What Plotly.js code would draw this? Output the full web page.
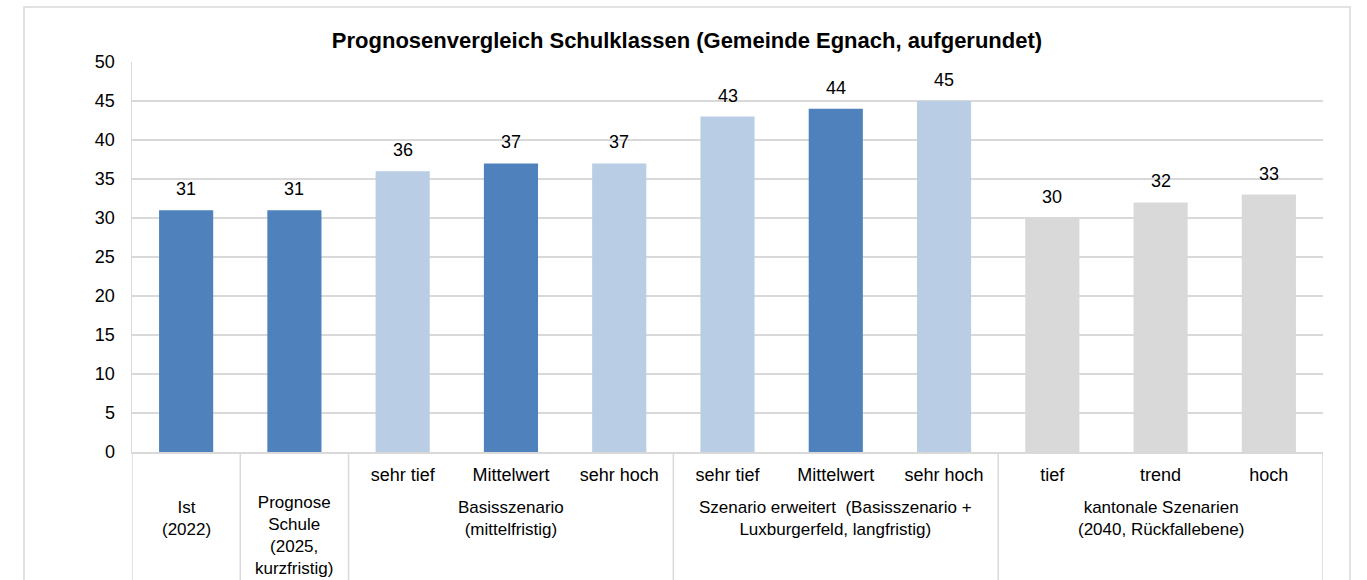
<!DOCTYPE html>
<html>
<head>
<meta charset="utf-8">
<script src="https://cdn.plot.ly/plotly-3.0.1.min.js"></script>
<style>
  html, body { margin: 0; padding: 0; background: #fff; }
  #chart { width: 1367px; height: 580px; }
</style>
</head>
<body>
<div id="chart"></div>
<script>
var subLabels = ['', '', 'sehr tief', 'Mittelwert', 'sehr hoch', 'sehr tief', 'Mittelwert', 'sehr hoch', 'tief', 'trend', 'hoch'];
var values = [31, 31, 36, 37, 37, 43, 44, 45, 30, 32, 33];
var barColors = ['#4f81bd', '#4f81bd', '#b9cde5', '#4f81bd', '#b9cde5', '#b9cde5', '#4f81bd', '#b9cde5', '#d9d9d9', '#d9d9d9', '#d9d9d9'];

var groupNames = ['Ist<br>(2022)', 'Prognose<br>Schule<br>(2025,<br>kurzfristig)', 'Basisszenario<br>(mittelfristig)',
                  'Szenario erweitert  (Basisszenario +<br>Luxburgerfeld, langfristig)', 'kantonale Szenarien<br>(2040, Rückfallebene)'];
var groupStart = [0, 1, 2, 5, 8];
var groupEnd = [0, 1, 4, 7, 10];

var FONT = 'Liberation Sans, Arial, sans-serif';
var GRID = '#d9d9d9';

function drawChart() {
  var idx = values.map(function(v, i) { return i; });

  var trace = {
    x: idx,
    y: values,
    type: 'bar',
    width: 0.5,
    marker: { color: barColors },
    hoverinfo: 'y'
  };

  // value labels above the bars
  var annotations = values.map(function(v, i) {
    return {
      x: i, y: v, xref: 'x', yref: 'y',
      text: String(v), showarrow: false,
      yanchor: 'bottom', yshift: 9,
      font: { family: FONT, size: 18, color: '#000' }
    };
  });

  // group labels under the sub labels (the 4-line one sits a bit higher so it fits)
  groupNames.forEach(function(g, i) {
    annotations.push({
      x: (groupStart[i] + groupEnd[i]) / 2, y: 0, xref: 'x', yref: 'paper',
      text: g, showarrow: false, yanchor: 'top',
      yshift: g.split('<br>').length > 2 ? -39 : -44,
      font: { family: FONT, size: 17, color: '#000' }
    });
  });

  var shapes = [];
  [-0.5, 0.5, 1.5, 4.5, 7.5, 10.5].forEach(function(b) {
    shapes.push({
      type: 'line', xref: 'x', yref: 'paper',
      x0: b, x1: b, y0: 0, y1: -0.4,
      line: { color: GRID, width: 1.5 }
    });
  });
  // outer frame
  shapes.push({
    type: 'rect', xref: 'paper', yref: 'paper',
    x0: -0.0907, x1: 1.0227, y0: -0.5, y1: 1.141,
    line: { color: GRID, width: 1.5 }
  });

  var layout = {
    width: 1367,
    height: 580,
    paper_bgcolor: '#fff',
    plot_bgcolor: '#fff',
    font: { family: FONT, color: '#000', size: 18 },
    title: {
      text: '<b>Prognosenvergleich Schulklassen (Gemeinde Egnach, aufgerundet)</b>',
      font: { family: FONT, size: 22, color: '#000' },
      x: 687 / 1367, xref: 'container', xanchor: 'center',
      y: 1 - 40 / 580, yref: 'container', yanchor: 'middle'
    },
    margin: { t: 62, r: 44, b: 128, l: 132 },
    showlegend: false,
    bargap: 0.5,
    xaxis: {
      range: [-0.5, 10.5],
      tickvals: idx,
      ticktext: subLabels,
      ticks: '',
      ticklabelstandoff: 6,
      showgrid: false,
      zeroline: false,
      showline: true,
      linecolor: GRID,
      linewidth: 1.5,
      tickfont: { family: FONT, size: 18, color: '#000' },
      fixedrange: true
    },
    yaxis: {
      range: [0, 50],
      dtick: 5,
      showgrid: true,
      gridcolor: GRID,
      gridwidth: 1.5,
      zeroline: false,
      showline: true,
      linecolor: GRID,
      linewidth: 1.5,
      ticks: '',
      ticklabelstandoff: 12,
      tickfont: { family: FONT, size: 18, color: '#000' },
      fixedrange: true
    },
    annotations: annotations,
    shapes: shapes
  };

  Plotly.newPlot('chart', [trace], layout, { displayModeBar: false, staticPlot: true });
}

drawChart();
</script>
</body>
</html>
